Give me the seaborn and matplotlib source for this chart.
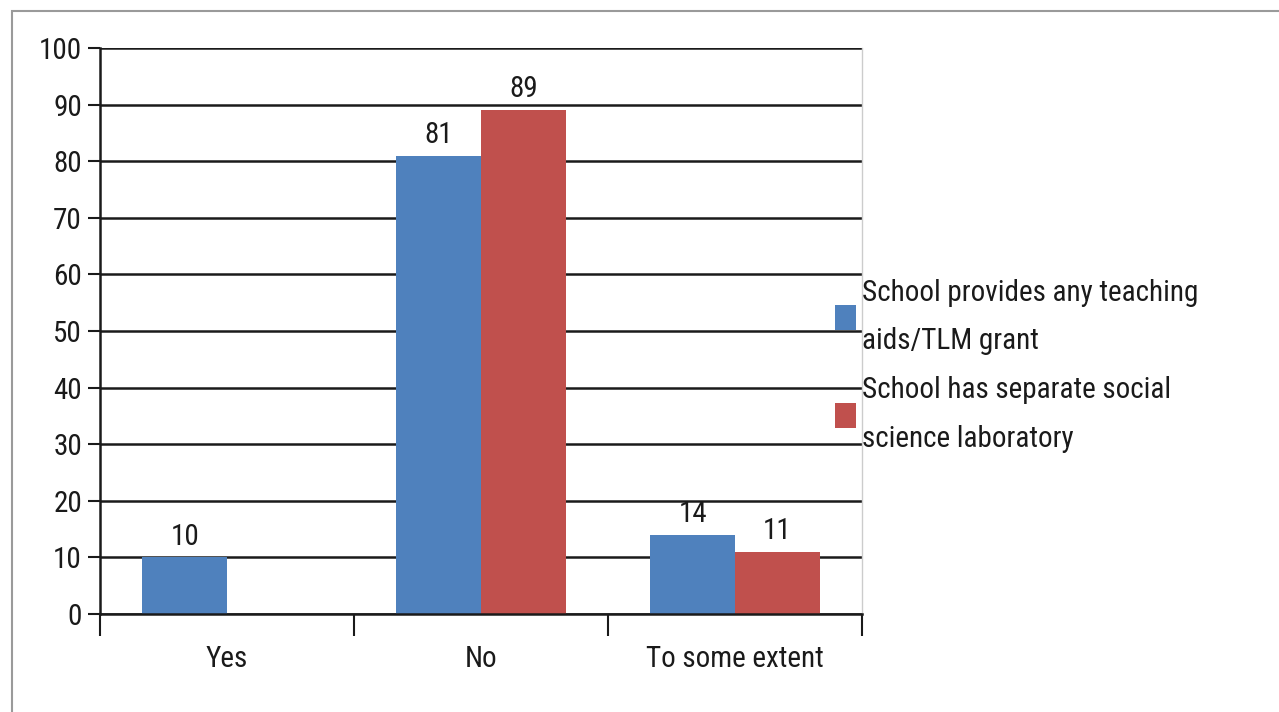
import matplotlib
matplotlib.use("Agg")
import matplotlib.pyplot as plt
from matplotlib import font_manager
from matplotlib.patches import Rectangle, Patch
import seaborn as sns
import pandas as pd

categories = ["Yes", "No", "To some extent"]
series_names = ["School provides any teaching\naids/TLM grant",
                "School has separate social\nscience laboratory"]
teaching_aids = [10, 81, 14]
social_lab = [None, 89, 11]
y_ticks = [0, 10, 20, 30, 40, 50, 60, 70, 80, 90, 100]

colors = ["#4F81BD", "#C0504D"]

sns.set_theme(style="white")
available = {f.name for f in font_manager.fontManager.ttflist}
family = "DejaVu Sans"
for cand in ["Liberation Sans Narrow", "Roboto Condensed", "Open Sans Condensed",
             "DejaVu Sans Condensed", "Noto Sans", "Liberation Sans"]:
    if cand in available:
        family = cand
        break
plt.rcParams["font.family"] = [family, "DejaVu Sans"]

rows = []
for cat, a, b in zip(categories, teaching_aids, social_lab):
    rows.append({"category": cat, "series": series_names[0], "value": a})
    rows.append({"category": cat, "series": series_names[1], "value": b if b is not None else 0})
df = pd.DataFrame(rows)

W, H = 1279, 712
fig = plt.figure(figsize=(W / 100, H / 100), dpi=100)
fig.patch.set_facecolor("white")
ax = fig.add_axes([100 / W, 1 - 614 / H, (862 - 100) / W, (614 - 48) / H])

# outer chart frame
fig.patches.append(Rectangle((12 / W, -0.05), 1.2, 1 - 11 / H + 0.05,
                             transform=fig.transFigure, fill=False,
                             edgecolor="#9a9a9a", linewidth=1.5, zorder=0))

sns.barplot(data=df, x="category", y="value", hue="series", order=categories,
            hue_order=series_names, palette=colors, width=0.667, saturation=1,
            ax=ax, legend=False, edgecolor="none", linewidth=0)

ax.set_ylim(0, 100)
ax.set_xlim(-0.5, 2.5)
ax.set_yticks(y_ticks)
for v in y_ticks:
    ax.axhline(v, color="#1a1a1a", linewidth=1.8, zorder=0.5)

ax.set_xlabel("")
ax.set_ylabel("")
fs = 21
ax.tick_params(axis="y", which="major", left=True, length=9, width=1.5,
               color="#1a1a1a", labelsize=fs, pad=4, labelcolor="#1a1a1a")
ax.set_xticks([0, 1, 2])
ax.set_xticklabels(categories, fontsize=fs, color="#1a1a1a")
ax.tick_params(axis="x", which="major", bottom=False, pad=16)
# category boundary ticks
ax.set_xticks([-0.5, 0.5, 1.5, 2.5], minor=True)
ax.tick_params(axis="x", which="minor", bottom=True, length=16, width=1.5,
               color="#1a1a1a", direction="out")

ax.spines["top"].set_visible(False)
ax.spines["right"].set_color("#cccccc")
ax.spines["right"].set_linewidth(1)
ax.spines["left"].set_color("#1a1a1a")
ax.spines["left"].set_linewidth(1.8)
ax.spines["bottom"].set_color("#1a1a1a")
ax.spines["bottom"].set_linewidth(1.8)

# value labels above bars
for container, vals in zip(ax.containers, [teaching_aids, social_lab]):
    for patch, v in zip(container.patches, vals):
        if v is None:
            continue
        ax.text(patch.get_x() + patch.get_width() / 2, v + 1.2, f"{v}",
                ha="center", va="bottom", fontsize=fs, color="#1a1a1a")

handles = [Patch(facecolor=c, edgecolor="none") for c in colors]
leg = fig.legend(handles, series_names, loc="upper left",
                 bbox_to_anchor=(820 / W, 1 - 264 / H), frameon=False,
                 fontsize=fs, handlelength=0.72, handleheight=0.95,
                 handletextpad=0.22, labelspacing=0.72, borderpad=0)
for t in leg.get_texts():
    t.set_linespacing(1.93)
    t.set_color("#1a1a1a")

fig.savefig("out.png", dpi=100, facecolor="white")
